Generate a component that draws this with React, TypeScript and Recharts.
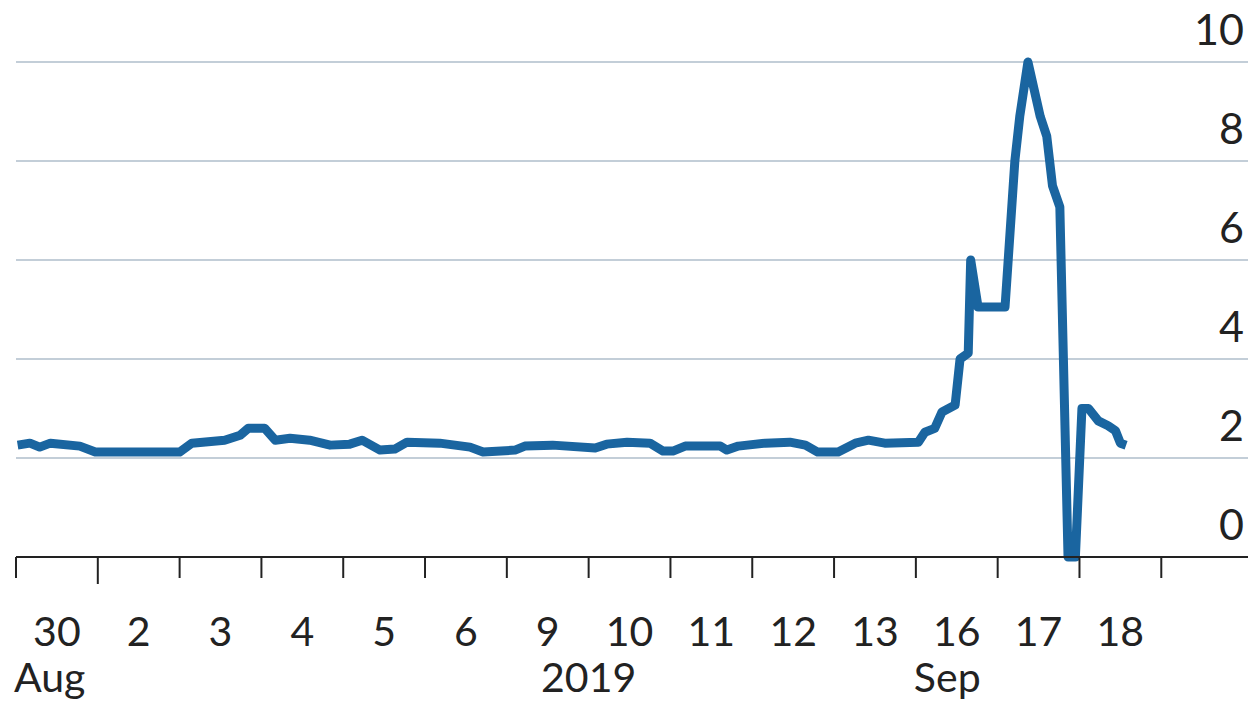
import React from 'react';
import { LineChart, Line, XAxis, YAxis, CartesianGrid } from 'recharts';

// x position in trading days from the first tick (30 Aug = 0)
const dayPos = [
  0.02, 0.17, 0.29, 0.42, 0.78, 0.97, 2.0, 2.15, 2.55, 2.74, 2.84, 3.04, 3.17, 3.35, 3.59,
  3.84, 4.08, 4.23, 4.45, 4.63, 4.78, 5.18, 5.55, 5.71, 6.1, 6.22, 6.56, 7.08, 7.22, 7.47,
  7.75, 7.91, 8.03, 8.18, 8.61, 8.69, 8.83, 9.16, 9.46, 9.65, 9.8, 10.05, 10.26, 10.42, 10.62,
  11.03, 11.11, 11.23, 11.32, 11.48, 11.54, 11.64, 11.67, 11.76, 12.09, 12.21, 12.27, 12.37,
  12.52, 12.6, 12.67, 12.76, 12.86, 12.95, 13.03, 13.11, 13.23, 13.35, 13.44, 13.5, 13.57,
];
const rate = [
  2.26, 2.3, 2.22, 2.3, 2.24, 2.12, 2.12, 2.3, 2.36, 2.46, 2.6, 2.6, 2.36, 2.4, 2.36,
  2.26, 2.28, 2.36, 2.16, 2.18, 2.32, 2.3, 2.22, 2.12, 2.16, 2.24, 2.26, 2.2, 2.28, 2.32,
  2.3, 2.14, 2.14, 2.24, 2.24, 2.16, 2.24, 2.3, 2.32, 2.26, 2.12, 2.12, 2.3, 2.36, 2.3,
  2.32, 2.52, 2.6, 2.93, 3.07, 4.0, 4.12, 6.0, 5.05, 5.05, 8.0, 8.9, 10.0,
  8.9, 8.5, 7.5, 7.07, 0, 0, 3.0, 3.0, 2.75, 2.65, 2.55, 2.3, 2.26,
];

const dayLabels = ['30', '2', '3', '4', '5', '6', '9', '10', '11', '12', '13', '16', '17', '18'];
const monthLabels = ['Aug', '2019', 'Sep'];
const monthAt = [0, 7, 11];
const yTicks = [0, 2, 4, 6, 8, 10];

const data = dayPos.map((d, i) => ({ d, v: rate[i] }));
const xTicks: number[] = [];
for (let i = 0; i <= dayLabels.length; i++) {
  xTicks.push(i);
  if (i < dayLabels.length) xTicks.push(i + 0.5);
}

const FONT = 'Lato, "Open Sans", sans-serif';
const INK = '#222';

function XTick(props: any) {
  const { x, y, payload } = props;
  const v: number = payload.value;
  if (Number.isInteger(v)) {
    const m = monthAt.indexOf(v);
    return (
      <g>
        <line x1={x} x2={x} y1={y} y2={y + (v === 1 ? 27 : 21)} stroke={INK} strokeWidth={2} />
        {m >= 0 && (
          <text x={m === 1 ? x : x - 2} y={y + 135} textAnchor={m === 1 ? 'middle' : 'start'}
            fontSize={41} fontFamily={FONT} fill={INK}>{monthLabels[m]}</text>
        )}
      </g>
    );
  }
  return (
    <text x={x} y={y + 89} textAnchor="middle" fontSize={41} fontFamily={FONT} fill={INK}>
      {dayLabels[Math.floor(v)]}
    </text>
  );
}

function YTick(props: any) {
  const { x, y, payload } = props;
  return (
    <text x={x - 4} y={y - 17} textAnchor="end" fontSize={43} fontFamily={FONT} fill={INK}>
      {payload.value}
    </text>
  );
}

export default function App() {
  return (
    <div style={{ position: 'absolute', left: 0, top: 0, background: '#fff' }}>
      <LineChart width={1250} height={702} data={data}
        margin={{ top: 62, right: 1, bottom: 0, left: 16 }}>
        <CartesianGrid vertical={false} stroke="#c3ced8" strokeWidth={2} />
        <XAxis dataKey="d" type="number" domain={[0, 15.06]} ticks={xTicks} interval={0}
          height={145} tickSize={0} tickMargin={0} tickLine={false}
          axisLine={{ stroke: INK, strokeWidth: 2 }} tick={<XTick />} />
        <YAxis orientation="right" width={1} domain={[0, 10]} ticks={yTicks} interval={0}
          tickSize={0} tickMargin={0} tickLine={false} axisLine={false} tick={<YTick />} />
        <Line type="linear" dataKey="v" stroke="#1a65a0" strokeWidth={9} dot={false}
          strokeLinejoin="round" isAnimationActive={false} />
      </LineChart>
    </div>
  );
}
